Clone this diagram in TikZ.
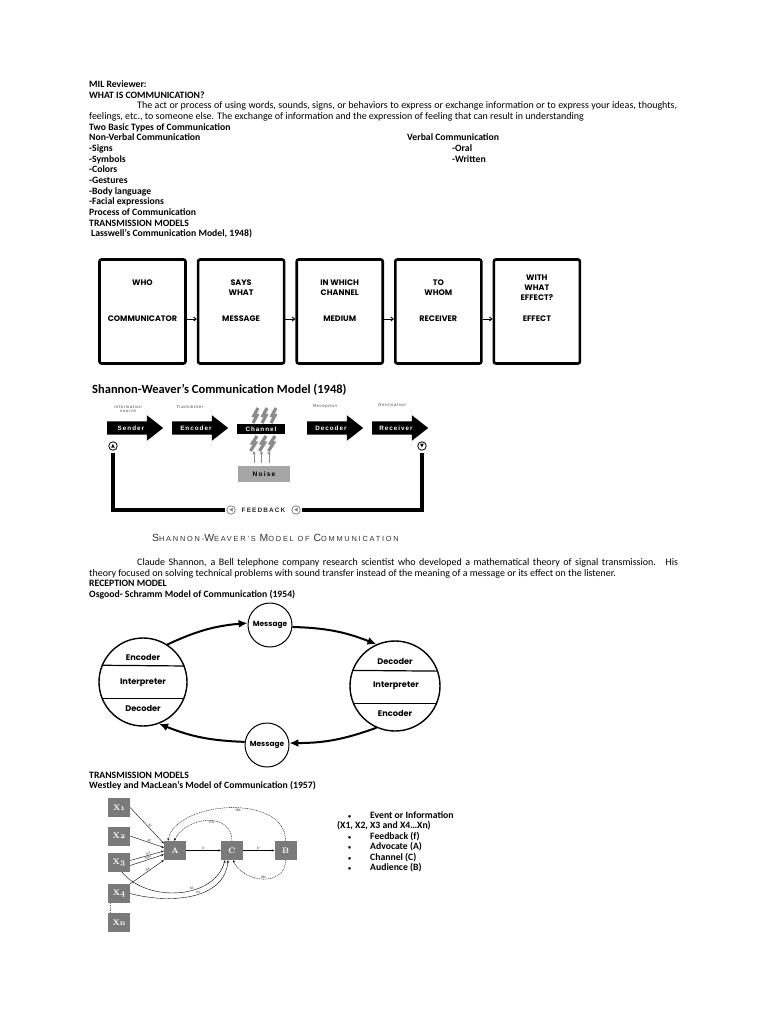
\documentclass[tikz,border=0pt]{standalone}
\usepackage{fontspec}
\setmainfont{Carlito}
\newfontfamily\gothic{Poppins}
\newfontfamily\arial{Liberation Sans}
\newfontfamily\symb{DejaVu Sans}
\newfontfamily\oldserif{Latin Modern Roman}[Numbers=OldStyle]
\usetikzlibrary{positioning, calc, shapes.arrows, arrows.meta, backgrounds}

\newcommand{\capl}[1]{{\fontsize{10.4}{11}\selectfont #1}}
\newcommand{\dotb}{{\fontsize{6}{6}\selectfont •}}

\begin{document}
\begin{tikzpicture}[x=1pt, y=-1pt,
    txt/.style={anchor=base west, inner sep=0pt, font=\fontsize{9.7}{10}\selectfont\bfseries},
    plain/.style={anchor=base west, inner sep=0pt, font=\fontsize{10}{10}\selectfont},
    title/.style={anchor=base west, inner sep=0pt, font=\fontsize{12.5}{13}\selectfont\bfseries},
    lbox/.style={draw, line width=2.6pt, rounded corners=2pt, minimum width=86pt,
                 minimum height=104pt},
    ltext/.style={align=center, inner sep=0pt, anchor=north,
                  font=\gothic\bfseries\fontsize{8}{10}\selectfont},
    larrow/.style={-{Straight Barb[length=2.5pt,width=4pt]}, line width=0.9pt},
    sarrow/.style={single arrow, fill=black, text=white, anchor=tail, minimum height=56pt,
                   single arrow head extend=6pt, single arrow tip angle=76,
                   inner xsep=1pt, inner ysep=3pt, text height=5.5pt, text depth=1.5pt,
                   font=\arial\bfseries\fontsize{6.3}{6}\selectfont\addfontfeatures{LetterSpace=16}},
    slabel/.style={align=center, inner sep=0pt, text=black!75,
                   font=\arial\itshape\fontsize{4.2}{4.8}\selectfont\addfontfeatures{LetterSpace=15}},
    icon/.style={circle, draw, line width=0.8pt, fill=white, minimum size=8.5pt, inner sep=0pt,
                 font=\symb\fontsize{5}{5}\selectfont},
    fbline/.style={line width=4.5pt},
    bolt/.style={draw=black!45, line width=3.2pt, line join=miter},
    oscircle/.style={circle, draw, line width=1.4pt, inner sep=0pt},
    ostext/.style={inner sep=0pt, font=\gothic\bfseries\fontsize{8.2}{9}\selectfont},
    msg/.style={circle, draw, line width=1pt, fill=white, minimum size=44pt, inner sep=0pt,
                font=\gothic\bfseries\fontsize{7.4}{8}\selectfont},
    osarrow/.style={line width=2pt, -{Latex[length=9pt,width=8pt]}},
    wbox/.style={fill=black!52, text=white, minimum width=22pt, minimum height=19pt,
                 inner sep=0pt, font=\oldserif\bfseries\fontsize{8}{8}\selectfont},
    warrow/.style={line width=0.4pt, -{Stealth[length=2.6pt,width=2.2pt]}},
    wdash/.style={warrow, dash pattern=on 1pt off 0.8pt},
    wlab/.style={inner sep=0.5pt, text=black!80, font=\fontsize{3.6}{4}\selectfont}
  ]
    % page
    \fill[white] (0,0) rectangle (768,1024);
    \useasboundingbox (0,0) rectangle (768,1024);

    % Opening text
    \node[txt] (t0) at (89,87.5) {MIL Reviewer:};
    \node[txt] (t1) at (89,98.2) {WHAT IS COMMUNICATION?};
    \node[plain] (t2) at (137,108.8) {\makebox[540pt][s]{The act or process of using words, sounds, signs, or behaviors to express or exchange information or to express your ideas, thoughts,}};
    \node[plain] (t3) at (89,119.5) {feelings, etc., to someone else. The exchange of information and the expression of feeling that can result in understanding};
    \node[txt] (t4) at (89,130.1) {Two Basic Types of Communication};
    \node[txt] (t5) at (89,140.8) {Non-Verbal Communication};
    \node[txt] (v0) at (407,140.8) {Verbal Communication};
    \node[txt] (v1) at (452,151.4) {-Oral};
    \node[txt] (v2) at (452,162.1) {-Written};
    \foreach \t [count=\i] in {-Signs,-Symbols,-Colors,-Gestures,-Body language,-Facial expressions}
      \node[txt] (nv\i) at (89,140.8+10.65*\i) {\t};
    \node[txt] (t12) at (89,215.3) {Process of Communication};
    \node[txt] (t13) at (89,226.0) {TRANSMISSION MODELS};
    \node[txt] (t14) at (91,236.6) {Lasswell’s Communication Model, 1948)};

    % Lasswell boxes
    \node[lbox] (who) at (142.5,311.5) {};
    \node[lbox, right=10pt of who] (what) {};
    \node[lbox, right=10pt of what] (which) {};
    \node[lbox, right=10pt of which] (whom) {};
    \node[lbox, right=10pt of whom] (effect) {};

    \node[ltext] (q1) at ($(who.north)+(0,21)$) {WHO};
    \node[ltext] (q2) at ($(what.north)+(0,21)$) {SAYS\\WHAT};
    \node[ltext] (q3) at ($(which.north)+(0,21)$) {IN WHICH\\CHANNEL};
    \node[ltext] (q4) at ($(whom.north)+(0,21)$) {TO\\WHOM};
    \node[ltext] (q5) at ($(effect.north)+(0,16)$) {WITH\\WHAT\\EFFECT?};

    \node[ltext, anchor=center] (r1) at ($(who.center)+(0,7.5)$) {COMMUNICATOR};
    \node[ltext, anchor=center] (r2) at ($(what.center)+(0,7.5)$) {MESSAGE};
    \node[ltext, anchor=center] (r3) at ($(which.center)+(0,7.5)$) {MEDIUM};
    \node[ltext, anchor=center] (r4) at ($(whom.center)+(0,7.5)$) {RECEIVER};
    \node[ltext, anchor=center] (r5) at ($(effect.center)+(0,7.5)$) {EFFECT};

    \draw[larrow] (who.east |- r1) -- (what.west |- r2);
    \draw[larrow] (what.east |- r2) -- (which.west |- r3);
    \draw[larrow] (which.east |- r3) -- (whom.west |- r4);
    \draw[larrow] (whom.east |- r4) -- (effect.west |- r5);

    % Shannon-Weaver
    \node[title] (swt) at (92,393) {Shannon-Weaver’s Communication Model (1948)};
    \node[sarrow] (sender) at (107,428) {Sender};
    \node[sarrow] (encoder) at (172,428) {Encoder};
    \node[fill=black, text=white, minimum width=48pt, minimum height=10pt, inner sep=0pt,
          font=\arial\bfseries\fontsize{6.3}{6}\selectfont\addfontfeatures{LetterSpace=16}]
          (channel) at (261,429) {Channel};
    \node[sarrow] (decoder) at (307,428) {Decoder};
    \node[sarrow] (receiver) at (372,428) {Receiver};

    \node[slabel] (srcl) at (128,409) {Information\\source};
    \node[slabel] (trl) at (190,407) {Transmitter};
    \node[slabel] (recl) at (325,406) {Reception};
    \node[slabel] (desl) at (392,405) {Destination};

    \foreach \dx in {0,9,18} {
      \draw[bolt] (258+\dx,408) -- (254+\dx,415.5) -- (257+\dx,415.5) -- (253+\dx,423);
      \draw[bolt] (257+\dx,436) -- (252.5+\dx,443) -- (255.5+\dx,443) -- (250.5+\dx,451);
    }

    \node[fill=black!35, minimum width=52pt, minimum height=16pt, inner sep=0pt,
          font=\arial\bfseries\fontsize{6.6}{6}\selectfont\addfontfeatures{LetterSpace=18}]
          (noise) at (264,474) {Noise};
    \foreach \x [count=\i] in {254,261.5,269} {
      \coordinate (nb\i) at (\x,463);
      \coordinate (nt\i) at (\x,451);
      \draw[black!45, line width=0.8pt, -{Triangle[length=3pt,width=3pt]}] (nb\i) -- (nt\i);
    }

    \node[icon] (iconA) at (113,446) {▲};
    \node[icon] (iconV) at (422,446) {▼};
    \node[icon, draw=black!50, text=black!50] (fbL) at (231,510) {◀};
    \node[inner sep=0pt, text=black!85, font=\arial\bfseries\fontsize{6.4}{6}\selectfont\addfontfeatures{LetterSpace=18}]
          (fb) at (263.5,510) {FEEDBACK};
    \node[icon, draw=black!50, text=black!50] (fbR) at (296,510) {◀};
    \draw[fbline] ([yshift=-2pt]iconA.south) |- ([xshift=-1pt]fbL.west);
    \draw[fbline] ([xshift=1pt]fbR.east) -| ([yshift=-2pt]iconV.south);

    \node[inner sep=0pt, text=black!80, font=\arial\fontsize{7.4}{8}\selectfont\addfontfeatures{LetterSpace=24}]
          (swcap) at (275.5,538) {\capl{S}HANNON-\capl{W}EAVER’S \capl{M}ODEL OF \capl{C}OMMUNICATION};

    % Paragraph and reception model
    \node[plain] (c1) at (137,565.5) {\makebox[541pt][s]{Claude Shannon, a Bell telephone company research scientist who developed a mathematical theory of signal transmission.\hspace{3pt} His}};
    \node[plain] (c2) at (89,576.2) {theory focused on solving technical problems with sound transfer instead of the meaning of a message or its effect on the listener.};
    \node[txt] (c3) at (89,586.8) {RECEPTION MODEL};
    \node[txt] (c4) at (89,597.5) {Osgood- Schramm Model of Communication (1954)};

    % Osgood-Schramm
    \begin{scope}[on background layer]
      \fill[black!3] (90,599) rectangle (448,768);
      \fill[black!3] (100,790) rectangle (302,936);
    \end{scope}
    \node[oscircle, minimum size=88pt] (sL) at (143,682) {};
    \node[oscircle, minimum size=90pt] (sR) at (395,686) {};
    \draw[line width=1.2pt] (sL.{asin(16/44)}) -- (sL.{180-asin(16/44)});
    \draw[line width=1.2pt] (sL.{-asin(17/44)}) -- (sL.{180+asin(17/44)});
    \draw[line width=1.2pt] (sR.{asin(15/45)}) -- (sR.{180-asin(15/45)});
    \draw[line width=1.2pt] (sR.{-asin(17/45)}) -- (sR.{180+asin(17/45)});
    \node[ostext] (lenc) at (143,657) {Encoder};
    \node[ostext] (lint) at (143,683) {Interpreter};
    \node[ostext] (ldec) at (143,708) {Decoder};
    \node[ostext] (rdec) at (395,661) {Decoder};
    \node[ostext] (rint) at (396,686) {Interpreter};
    \node[ostext] (renc) at (395,713) {Encoder};

    \node[msg] (mT) at (270,625) {Message};
    \node[msg] (mB) at (267,745) {Message};

    \draw[osarrow] (sL.57) to[bend left=10] (mT.175);
    \draw[osarrow] (mT.-5) to[bend left=10] (sR.114);
    \draw[osarrow] (sR.246) to[bend left=10] (mB.5);
    \draw[osarrow] (mB.172) to[bend left=10] (sL.291);

    % Westley and MacLean
    \node[txt] (w0) at (89,778) {TRANSMISSION MODELS};
    \node[txt] (w1) at (89,788.8) {Westley and MacLean’s Model of Communication (1957)};

    \node[wbox] (x1) at (119,807.5) {X1};
    \node[wbox] (x2) at (119,836) {X2};
    \node[wbox] (x3) at (119,862.5) {X3};
    \node[wbox] (x4) at (119,893.5) {X4};
    \node[wbox] (xn) at (119,922.5) {Xn};
    \node[wbox] (a) at (175,850.5) {A};
    \node[wbox] (c) at (232,850.5) {C};
    \node[wbox] (b) at (285.5,850.5) {B};
    \draw[black!60, line width=0.5pt, dash pattern=on 0.6pt off 1.2pt]
      ([xshift=-9pt]x4.south) -- ([xshift=-9pt]xn.north);

    \draw[warrow] (x1.east) -- node[wlab, sloped, above, pos=0.55] {X1} ([yshift=7pt]a.west);
    \draw[warrow] (x2.east) -- node[wlab, sloped, above, pos=0.55] {X2} ([yshift=3pt]a.west);
    \draw[warrow] ([yshift=2pt]x3.east) -- node[wlab, sloped, above, pos=0.55] {X3} ([yshift=-0.5pt]a.west);
    \draw[warrow] ([yshift=-3pt]x3.east) -- node[wlab, sloped, above, pos=0.55] {X3m} ([yshift=-4pt]a.west);
    \draw[warrow] (x4.north east) -- node[wlab, sloped, above, pos=0.55] {X4} (a.south west);
    \draw[warrow] ([xshift=3pt]x3.south) to[out=-50, in=-105]
      node[wlab, pos=0.6, above] {X3} ([xshift=-7pt]c.south);
    \draw[warrow] (x4.east) to[out=-15, in=-95]
      node[wlab, pos=0.55, above] {X4} ([xshift=-4pt]c.south);

    \draw[warrow] (a.east) -- node[wlab, above] {X’} (c.west);
    \draw[warrow] (c.east) -- node[wlab, above] {X’’} (b.west);
    \draw[wdash] (b.north) .. controls +(0,-48) and +(8,-40) ..
      node[wlab, pos=0.45, below] {fBA} ([xshift=-7pt]a.north);
    \draw[wdash] (c.north) .. controls +(0,-28) and +(14,-26) ..
      node[wlab, pos=0.45, below] {fCA} ([xshift=-1pt]a.north);
    \draw[wdash] (b.south) .. controls +(0,26) and +(12,24) ..
      node[wlab, pos=0.5, above] {fBC} ([xshift=1pt]c.south);

    % Legend
    \node[txt] (g1) at (348,818) {\dotb};
    \node[txt] (g1t) at (370,818) {Event or Information};
    \node[txt] (g2) at (337,828.5) {(X1, X2, X3 and X4…Xn)};
    \foreach \t [count=\i] in {Feedback (f),Advocate (A),Channel (C),Audience (B)} {
      \node[txt] (gb\i) at (348,828.5+10.6*\i) {\dotb};
      \node[txt] (gt\i) at (370,828.5+10.6*\i) {\t};
    }
\end{tikzpicture}
\end{document}
